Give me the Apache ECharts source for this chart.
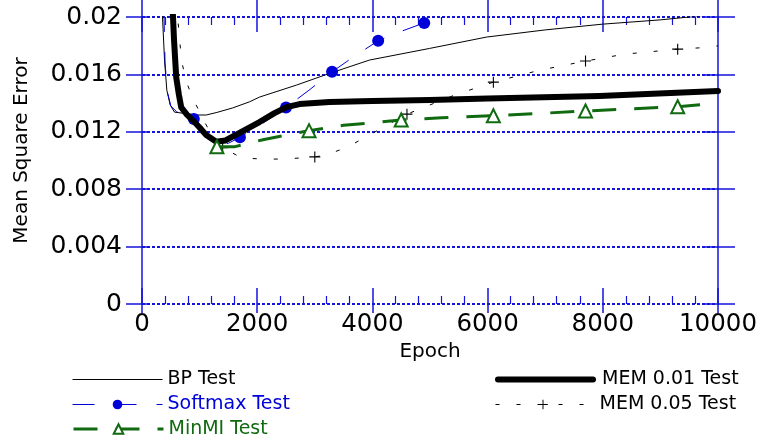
<!DOCTYPE html>
<html>
<head>
<meta charset="utf-8" />
<title></title>
<script type="text/javascript" src="https://cdn.jsdelivr.net/npm/echarts@6/dist/echarts.min.js"></script>
</head>
<body style="margin:0; background:#fff;">
<div id="main" style="width:763px; height:438px;"></div>
<script>
// tick labels
var xTickLabels = ['0', '2000', '4000', '6000', '8000', '10000'];
var yTickLabels = ['0', '0.004', '0.008', '0.012', '0.016', '0.02'];

// BP Test
var bpEpoch = [348, 356, 391, 431, 490, 564, 703, 946, 1115, 1300, 1572, 1867, 2040, 2678, 3256, 3950, 4993, 5980, 7000, 7990, 9000, 9500, 10000];
var bpMse   = [0.021, 0.0200, 0.0170, 0.0149, 0.01386, 0.01337, 0.0133, 0.01317, 0.01317, 0.01335, 0.01366, 0.01409, 0.01442, 0.01525, 0.01607, 0.0170, 0.01781, 0.0186, 0.0191, 0.0195, 0.0198, 0.0200, 0.0202];

// Softmax Test
var smEpoch = [380, 400, 440, 500, 600, 750, 900, 1100, 1320, 1500, 1700, 2100, 2500, 2900, 3300, 3700, 4100, 4500, 4900, 5200, 5600];
var smMse   = [0.0205, 0.0168, 0.0148, 0.0138, 0.0134, 0.0132, 0.01289, 0.0118, 0.0111, 0.0112, 0.01162, 0.0126, 0.0137, 0.0149, 0.01618, 0.0173, 0.01834, 0.0190, 0.01959, 0.0200, 0.0205];
var smMarks = [900, 1700, 2500, 3300, 4100, 4900];

// MinMI Test
var miEpoch = [1300, 1600, 2100, 2900, 3500, 4500, 5200, 6100, 7000, 7700, 8500, 9300, 10000];
var miMse   = [0.01096, 0.01095, 0.01145, 0.01208, 0.01245, 0.01282, 0.01298, 0.01312, 0.0133, 0.01345, 0.0136, 0.01375, 0.0140];
var miMarks = [1300, 2900, 4500, 6100, 7700, 9300];

// MEM 0.01 Test
var m1Epoch = [533, 556, 594, 640, 681, 780, 877, 1000, 1115, 1289, 1450, 1693, 2040, 2300, 2510, 2735, 3256, 4000, 4993, 6000, 7945, 10000];
var m1Mse   = [0.0205, 0.0184, 0.0158, 0.0146, 0.0137, 0.0132, 0.01282, 0.0123, 0.01177, 0.01131, 0.0114, 0.01192, 0.01268, 0.0133, 0.01372, 0.01393, 0.01407, 0.01415, 0.01421, 0.01432, 0.01449, 0.01484];

// MEM 0.05 Test
var m5Epoch = [600, 651, 691, 768, 912, 1115, 1311, 1400, 1728, 2093, 2475, 3000, 3204, 3569, 3951, 4600, 5427, 6100, 6904, 7700, 8381, 9300, 9890, 10000];
var m5Mse   = [0.021, 0.01845, 0.01688, 0.01549, 0.01409, 0.01247, 0.01108, 0.0109, 0.01018, 0.0101, 0.0101, 0.01025, 0.01039, 0.01094, 0.01178, 0.01323, 0.01456, 0.01546, 0.01629, 0.01693, 0.01741, 0.01776, 0.0179, 0.0180];
var m5Marks = [1400, 3000, 4600, 6100, 7700, 9300];

var FONT = 'DejaVu Sans';
var BLUE = '#0000d8';
var GREEN = '#106a10';
var AXIS = '#1414dc';
var PLUS = 'path://M4.5,0H5.5V4.5H10V5.5H5.5V10H4.5V5.5H0V4.5H4.5Z';

function pts(xs, ys, marks) {
    return xs.map(function (x, i) {
        var it = { value: [x, ys[i]] };
        if (marks && marks.indexOf(x) < 0) it.symbol = 'none';
        return it;
    });
}

// one axis of the frame, only ticks
function frameX(grid, pos, inside, len, minor) {
    return {
        gridIndex: grid, type: 'value', position: pos, min: 0, max: 10000, interval: 2000,
        axisLine: { show: false, onZero: false },
        axisTick: { inside: inside, length: len, lineStyle: { color: AXIS, width: 1.5 } },
        minorTick: { show: minor, splitNumber: 5, length: 8, lineStyle: { color: AXIS, width: 1.2 } },
        splitLine: { show: false },
        axisLabel: { show: false }
    };
}
function frameY(grid, pos, inside, len, line) {
    return {
        gridIndex: grid, type: 'value', position: pos, min: 0, max: 0.02, interval: 0.004,
        axisLine: { show: line, onZero: false, lineStyle: { color: AXIS, width: 1.5 } },
        axisTick: { inside: inside, length: len, lineStyle: { color: AXIS, width: 1.5 } },
        splitLine: { show: false },
        axisLabel: { show: false }
    };
}

// one legend row entry
function legendItem(name, left, top, width, extra) {
    var item = { name: name };
    Object.assign(item, extra || {});
    return {
        left: left, top: top, orient: 'vertical', padding: 0,
        itemWidth: width, itemHeight: 12,
        lineStyle: { width: 'inherit' },
        textStyle: { fontFamily: FONT, fontSize: 19, color: '#000' },
        data: [item]
    };
}

var chartDom = document.getElementById('main');
var myChart = echarts.init(chartDom);

var gridRect = { left: 142, top: 17, width: 576, height: 287 };

var xBottom = frameX(0, 'bottom', true, 16, true);
xBottom.axisLabel = {
    show: true, margin: 8, fontSize: 24.5, fontFamily: FONT, color: '#000',
    formatter: function (v) { return xTickLabels[Math.round(v / 2000)]; }
};
xBottom.name = 'Epoch';
xBottom.nameLocation = 'middle';
xBottom.nameGap = 37;
xBottom.nameTextStyle = { fontSize: 20, fontFamily: FONT, color: '#000' };

var yLeft = frameY(0, 'left', false, 16, true);
yLeft.splitLine = { show: true, lineStyle: { color: AXIS, width: 2, type: [3, 2] } };
yLeft.axisLabel = {
    show: true, margin: 20, fontSize: 25, fontFamily: FONT, color: '#000',
    formatter: function (v) { return yTickLabels[Math.round(v / 0.004)]; }
};
yLeft.name = 'Mean Square Error';
yLeft.nameLocation = 'middle';
yLeft.nameGap = 110;
yLeft.nameTextStyle = { fontSize: 20, fontFamily: FONT, color: '#000', padding: [0, 0, 0, 20] };

var option = {
    backgroundColor: '#fff',
    animation: false,
    grid: [
        Object.assign({ containLabel: false, outerBoundsMode: 'none' }, gridRect),
        Object.assign({ containLabel: false, outerBoundsMode: 'none' }, gridRect)
    ],
    xAxis: [
        xBottom,
        frameX(0, 'top', true, 15, true),
        frameX(1, 'bottom', false, 9, false),
        frameX(1, 'top', false, 17, false)
    ],
    yAxis: [
        yLeft,
        frameY(0, 'right', true, 13, true),
        frameY(1, 'left', true, 5, false),
        frameY(1, 'right', false, 17, false)
    ],
    legend: [
        legendItem('BP Test', 72, 370, 90, { itemStyle: { opacity: 0 } }),
        legendItem('Softmax Test', 72, 395, 90, { textStyle: { color: BLUE } }),
        legendItem('MinMI Test', 72, 419.5, 90, { textStyle: { color: GREEN } }),
        legendItem('MEM 0.01 Test', 495, 370, 95, { itemStyle: { opacity: 0 }, textStyle: { padding: [0, 0, 0, 4] } }),
        legendItem('MEM 0.05 Test', 495, 395, 95, { textStyle: { padding: [0, 0, 0, 4] } })
    ],
    series: [
        {
            name: 'BP Test', type: 'line', xAxisIndex: 0, yAxisIndex: 0,
            showSymbol: false, symbol: 'circle', itemStyle: { color: '#000' },
            lineStyle: { color: '#000', width: 1 },
            data: pts(bpEpoch, bpMse), z: 2
        },
        {
            name: 'MEM 0.05 Test', type: 'line', xAxisIndex: 0, yAxisIndex: 0,
            symbol: PLUS, symbolSize: 11, itemStyle: { color: '#000' },
            lineStyle: { color: '#000', width: 1, type: [4, 17] },
            data: pts(m5Epoch, m5Mse, m5Marks), z: 3
        },
        {
            name: 'Softmax Test', type: 'line', xAxisIndex: 0, yAxisIndex: 0,
            symbol: 'circle', symbolSize: 12, itemStyle: { color: BLUE },
            lineStyle: { color: BLUE, width: 1, type: [22, 20] },
            data: pts(smEpoch, smMse, smMarks), z: 4
        },
        {
            name: 'MEM 0.01 Test', type: 'line', xAxisIndex: 0, yAxisIndex: 0,
            showSymbol: false, symbol: 'circle', itemStyle: { color: '#000' },
            lineStyle: { color: '#000', width: 6, join: 'round', cap: 'round' },
            data: pts(m1Epoch, m1Mse), z: 5
        },
        {
            name: 'MinMI Test', type: 'line', xAxisIndex: 0, yAxisIndex: 0,
            symbol: 'emptyTriangle', symbolSize: 13, itemStyle: { color: GREEN, borderWidth: 1.2 },
            lineStyle: { color: GREEN, width: 3, type: [24, 18] },
            data: pts(miEpoch, miMse, miMarks), z: 6
        }
    ]
};

myChart.setOption(option);
</script>
</body>
</html>
